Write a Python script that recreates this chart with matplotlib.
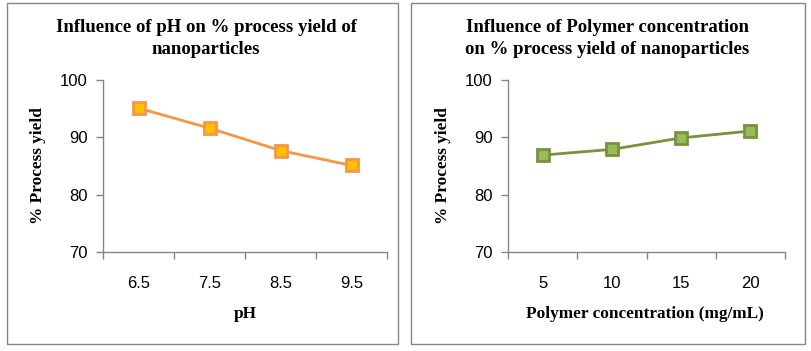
import matplotlib.pyplot as plt
from matplotlib.patches import Rectangle

# data
ph_labels = ["6.5", "7.5", "8.5", "9.5"]
ph_yield = [95.1, 91.6, 87.7, 85.1]

conc_labels = ["5", "10", "15", "20"]
conc_yield = [86.9, 87.9, 89.9, 91.1]

W, H = 811, 351
fig = plt.figure(figsize=(W / 100, H / 100), dpi=100)

serif = "Liberation Serif"
sans = "Liberation Sans"
grey = "#868686"


def px(x0, y0, x1, y1):
    return [x0 / W, 1 - y1 / H, (x1 - x0) / W, (y1 - y0) / H]


def draw_panel(rect, labels, values, line_c, face_c, title, title_x, xlabel, xlabel_x, ylabel_x):
    ax = fig.add_axes(px(*rect))
    x = list(range(len(labels)))
    ax.plot(x, values, color=line_c, linewidth=2.0, marker="s", markersize=9,
            markerfacecolor=face_c, markeredgecolor=line_c, markeredgewidth=2.0,
            solid_capstyle="round", zorder=3, clip_on=False)
    ax.set_xlim(-0.5, len(labels) - 0.5)
    ax.set_ylim(70, 100)
    ax.set_yticks([70, 80, 90, 100])
    ax.set_xticks([i - 0.5 for i in range(len(labels) + 1)])
    ax.set_xticklabels([])
    ax.set_xticks(x, minor=True)
    ax.set_xticklabels(labels, minor=True)
    ax.tick_params(axis="x", which="minor", length=0, pad=17)
    ax.tick_params(axis="both", which="major", length=5, width=1, color=grey, direction="out")
    ax.tick_params(axis="y", pad=6)
    for lab in ax.get_xticklabels(minor=True) + ax.get_yticklabels():
        lab.set_fontfamily(sans)
        lab.set_fontsize(12)
    for s in ["top", "right"]:
        ax.spines[s].set_visible(False)
    for s in ["left", "bottom"]:
        ax.spines[s].set_color(grey)
        ax.spines[s].set_linewidth(1)
    fig.text(title_x / W, 1 - 38.5 / H, title, ha="center", va="center", fontsize=13.5,
             fontweight="bold", family=serif, linespacing=1.35)
    fig.text(xlabel_x / W, 1 - 314 / H, xlabel, ha="center", va="center", fontsize=12.4,
             fontweight="bold", family=serif)
    fig.text(ylabel_x / W, 1 - 166 / H, "% Process yield", ha="center", va="center",
             rotation=90, fontsize=12.4, fontweight="bold", family=serif)
    return ax


# panel frames
fig.patches.append(Rectangle((7 / W, 1 - 344 / H), 391 / W, 341 / H, transform=fig.transFigure,
                             fill=False, edgecolor=grey, linewidth=1))
fig.patches.append(Rectangle((411 / W, 1 - 344 / H), 394 / W, 341 / H, transform=fig.transFigure,
                             fill=False, edgecolor=grey, linewidth=1))

draw_panel((103, 80, 387, 252), ph_labels, ph_yield, "#F79646", "#FFC000",
           "Influence of pH on % process yield of\nnanoparticles", 206, "pH", 245, 38)
draw_panel((508, 80, 785, 252), conc_labels, conc_yield, "#77933C", "#9BBB59",
           "Influence of Polymer concentration\non % process yield of nanoparticles", 607,
           "Polymer concentration (mg/mL)", 645, 443)

fig.savefig("out.png", dpi=100)
